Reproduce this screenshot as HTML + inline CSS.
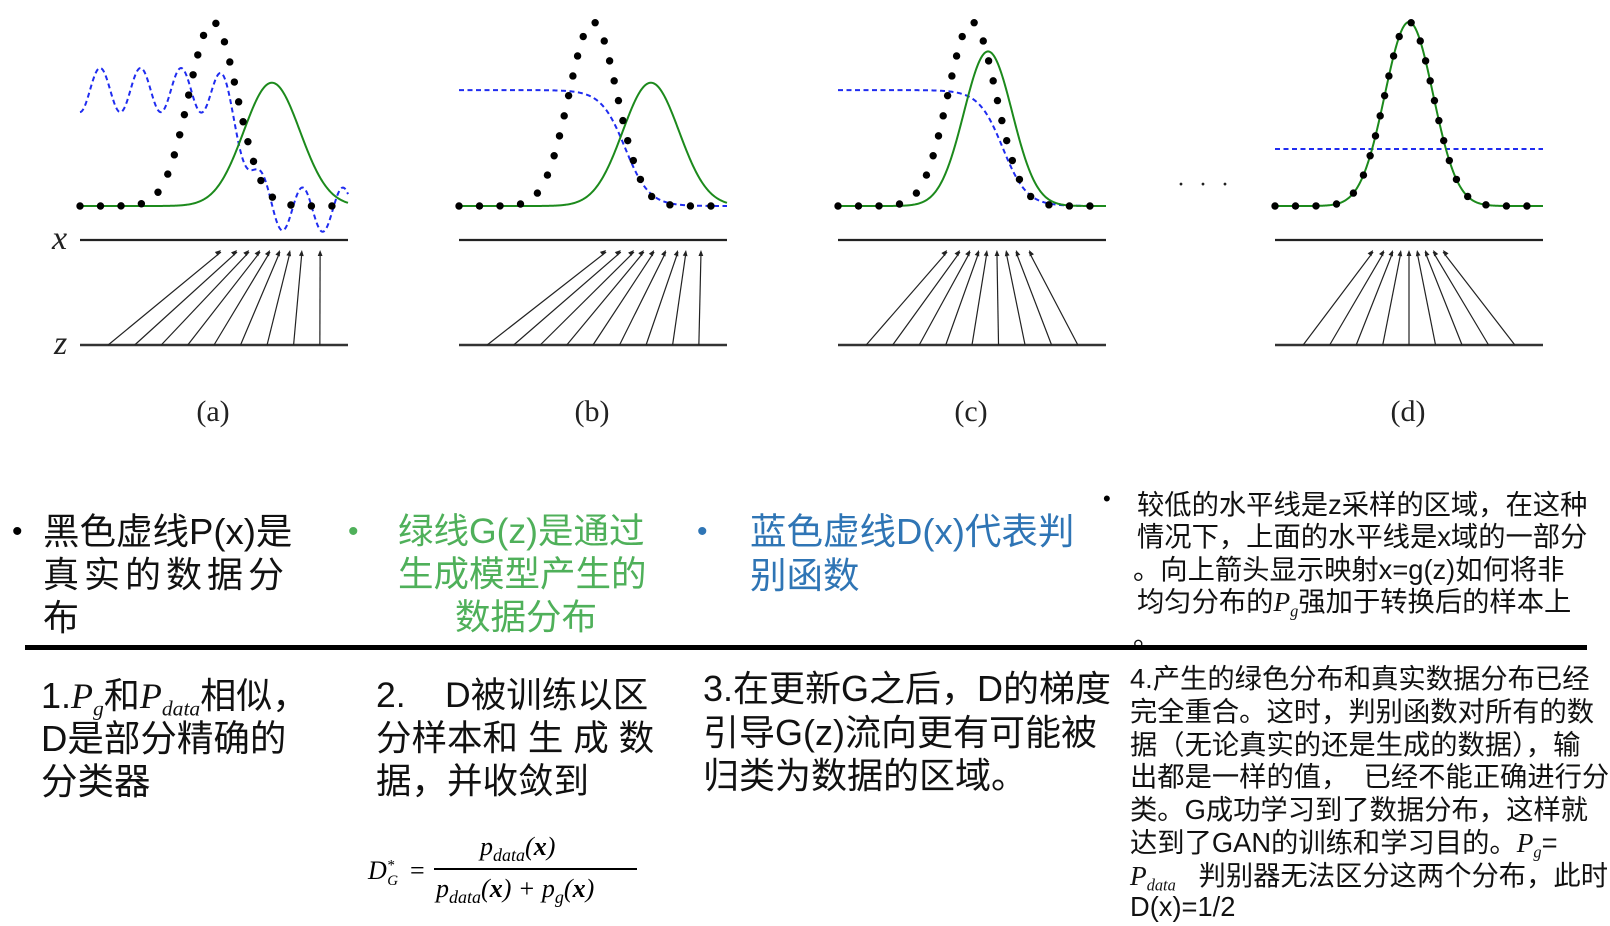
<!DOCTYPE html>
<html><head><meta charset="utf-8">
<style>
body{margin:0;background:#fff;}
#root{position:relative;width:1610px;height:926px;overflow:hidden;background:#fff;font-family:"Liberation Sans","Noto Sans CJK SC",sans-serif;}
.t{position:absolute;white-space:nowrap;line-height:1;}
.c1{font-size:35.5px;color:#111;}
.sm{font-size:27.3px;color:#111;}
.i{font-family:"Liberation Serif",serif;font-style:italic;}
.sub{font-size:0.6em;vertical-align:-0.35em;}
.bul{position:absolute;font-size:30px;line-height:1;}
</style></head>
<body>
<div id="root">
<svg id="chart" width="1610" height="440" style="position:absolute;left:0;top:0"></svg>

<div class="bul" style="left:12px;top:517px">•</div>
<div class="t c1" style="left:43px;top:514px;font-size:36.5px">黑色虚线P(x)是</div>
<div class="t c1" style="left:43px;top:557px;letter-spacing:5px;font-size:36px">真实的数据分</div>
<div class="t c1" style="left:43px;top:600px;font-size:36px">布</div>

<div class="bul" style="left:348px;top:517px;color:#4fb05a">•</div>
<div class="t c1" style="left:398px;top:514px;color:#4fb05a">绿线G(z)是通过</div>
<div class="t c1" style="left:398px;top:557px;color:#4fb05a">生成模型产生的</div>
<div class="t c1" style="left:455px;top:600px;color:#4fb05a">数据分布</div>

<div class="bul" style="left:697px;top:517px;color:#2f75b5">•</div>
<div class="t c1" style="left:750px;top:514px;color:#2f75b5;font-size:36.5px">蓝色虚线D(x)代表判</div>
<div class="t c1" style="left:750px;top:558px;color:#2f75b5;font-size:36.5px">别函数</div>

<div class="bul" style="left:1103px;top:488px;font-size:22px">•</div>
<div class="t sm" style="left:1137px;top:491px">较低的水平线是z采样的区域，在这种</div>
<div class="t sm" style="left:1137px;top:523px">情况下，上面的水平线是x域的一部分</div>
<div class="t sm" style="left:1133px;top:556px">。向上箭头显示映射x=g(z)如何将非</div>
<div class="t sm" style="left:1137px;top:588px">均匀分布的<span class="i">P<span class="sub">g</span></span>强加于转换后的样本上</div>
<div class="t sm" style="left:1133px;top:623px">。</div>

<div style="position:absolute;left:25px;top:645px;width:1562px;height:5px;background:#000"></div>

<div class="t c1" style="left:41px;top:678px;font-size:36px">1.<span class="i">P<span class="sub">g</span></span>和<span class="i">P<span class="sub">data</span></span>相似，</div>
<div class="t c1" style="left:41px;top:721px;font-size:36.5px">D是部分精确的</div>
<div class="t c1" style="left:41px;top:764px;font-size:36.5px">分类器</div>

<div class="t c1" style="left:376px;top:678px">2.&nbsp;&nbsp;&nbsp; D被训练以区</div>
<div class="t c1" style="left:376px;top:721px">分样本和 生 成 数</div>
<div class="t c1" style="left:376px;top:764px">据，并收敛到</div>

<div style="position:absolute;left:368px;top:836px;font-family:'Liberation Serif',serif;font-size:26px;line-height:1">
  <span style="position:absolute;left:0;top:22px;font-style:italic;white-space:nowrap">D<sup style="font-size:15px">*</sup><sub style="font-size:15px;margin-left:-7px">G</sub></span>
  <span style="position:absolute;left:42px;top:22px">=</span>
  <span style="position:absolute;left:112px;top:-2px;white-space:nowrap;font-style:italic">p<sub style="font-size:18px">data</sub>(<b>x</b>)</span>
  <span style="position:absolute;left:66px;top:32px;width:203px;height:1.5px;background:#000"></span>
  <span style="position:absolute;left:68px;top:40px;white-space:nowrap;font-style:italic">p<sub style="font-size:18px">data</sub>(<b>x</b>) + p<sub style="font-size:18px">g</sub>(<b>x</b>)</span>
</div>

<div class="t c1" style="left:703px;top:671px;font-size:36px">3.在更新G之后，D的梯度</div>
<div class="t c1" style="left:703px;top:715px;font-size:36px">引导G(z)流向更有可能被</div>
<div class="t c1" style="left:703px;top:758px;font-size:36px">归类为数据的区域。</div>

<div class="t sm" style="left:1130px;top:665px">4.产生的绿色分布和真实数据分布已经</div>
<div class="t sm" style="left:1130px;top:698px">完全重合。这时，判别函数对所有的数</div>
<div class="t sm" style="left:1130px;top:731px">据（无论真实的还是生成的数据），输</div>
<div class="t sm" style="left:1130px;top:763px">出都是一样的值，&nbsp;&nbsp;已经不能正确进行分</div>
<div class="t sm" style="left:1130px;top:796px">类。G成功学习到了数据分布，这样就</div>
<div class="t sm" style="left:1130px;top:829px">达到了GAN的训练和学习目的。<span class="i">P<span class="sub">g</span></span>=</div>
<div class="t sm" style="left:1130px;top:862px"><span class="i">P<span class="sub">data</span></span>&nbsp;&nbsp; 判别器无法区分这两个分布，此时</div>
<div class="t sm" style="left:1130px;top:893px">D(x)=1/2</div>
</div>

<script>
const panelLabels = ['(a)','(b)','(c)','(d)'];
const dataMean = [0.496, 0.5, 0.5, 0.5];
const dataSigma = [0.09, 0.09, 0.09, 0.09];
const genMean = [0.716, 0.716, 0.560, 0.5];
const genSigma = [0.105, 0.105, 0.09, 0.09];
const genPeak = [0.67, 0.67, 0.84, 1.0];
const discHigh = [0.63, 0.63, 0.63, 0.31];
const discLow = [-0.02, 0.0, 0.0, 0.31];
const discMid = [0.62, 0.62, 0.615, 0.5];
const discScale = [0.03, 0.045, 0.045, 0.045];
const discWiggleAmp = [0.12, 0, 0, 0];
const discWigglePeriod = [0.151, 1, 1, 1];
const discWigglePhase = [0.075, 0, 0, 0];
const zSamples = [0.105,0.204,0.303,0.402,0.5,0.599,0.698,0.797,0.895];
const xHeadsA = [0.526,0.586,0.631,0.672,0.709,0.746,0.784,0.828,0.896];
const xHeadsB = [0.549,0.604,0.653,0.690,0.728,0.772,0.817,0.847,0.903];
const xHeadsC = [0.407,0.455,0.493,0.526,0.556,0.593,0.627,0.664,0.713];
const xHeadsD = [0.366,0.407,0.440,0.470,0.5,0.530,0.560,0.590,0.627];
const xHeads = [xHeadsA, xHeadsB, xHeadsC, xHeadsD];

const panelLeft = [80, 459, 838, 1275];
const panelW = 268, baseY = 206, unitH = 184, xLineY = 240, zLineY = 345, headY = 250;
const NS = 'http://www.w3.org/2000/svg';
const svg = document.getElementById('chart');
function mk(tag, attrs){const e=document.createElementNS(NS,tag);for(const k in attrs)e.setAttribute(k,attrs[k]);svg.appendChild(e);return e;}
function gauss(f,m,s){return Math.exp(-0.5*((f-m)/s)**2);}
function sig(v){return 1/(1+Math.exp(-v));}

for(let p=0;p<4;p++){
  const L = panelLeft[p];
  const sx = f => L + f*panelW;
  const sy = v => baseY - v*unitH;
  const N = 400;
  const dataF = f => gauss(f,dataMean[p],dataSigma[p]);
  const genF = f => genPeak[p]*gauss(f,genMean[p],genSigma[p]);
  const discF = f => {
    const lvl = discHigh[p] + (discLow[p]-discHigh[p])*sig((f-discMid[p])/discScale[p]);
    return lvl + discWiggleAmp[p]*Math.cos(2*Math.PI*(f-discWigglePhase[p])/discWigglePeriod[p]);
  };
  let d='';
  for(let i=0;i<=N;i++){const f=i/N;d+=(i?'L':'M')+sx(f).toFixed(2)+' '+sy(discF(f)).toFixed(2);}
  const blue=mk('path',{d:d,fill:'none',stroke:'#1f2cf0','stroke-width':2,'stroke-dasharray':'5 3.5'});
  
  
  d='';
  for(let i=0;i<=N;i++){const f=i/N;d+=(i?'L':'M')+sx(f).toFixed(2)+' '+sy(genF(f)).toFixed(2);}
  const green=mk('path',{d:d,fill:'none',stroke:'#1c8a1c','stroke-width':2});
  
  
  let pts=[];
  for(let i=0;i<=2000;i++){const f=i/2000;pts.push([sx(f),sy(dataF(f))]);}
  let acc=0, next=0, step=20.5;
  const g=mk('g',{});
  
  
  for(let i=0;i<pts.length;i++){
    if(i>0) acc+=Math.hypot(pts[i][0]-pts[i-1][0],pts[i][1]-pts[i-1][1]);
    if(acc>=next){
      const c=document.createElementNS(NS,'circle');
      c.setAttribute('cx',pts[i][0]);c.setAttribute('cy',pts[i][1]);c.setAttribute('r',3.7);c.setAttribute('fill','#000');
      
      
      g.appendChild(c); next+=step;
    }
  }
  const xl=mk('line',{x1:L,y1:xLineY,x2:L+panelW,y2:xLineY,stroke:'#222','stroke-width':2.2});
  
  
  const zl=mk('line',{x1:L,y1:zLineY,x2:L+panelW,y2:zLineY,stroke:'#333','stroke-width':2.6});
  
  
  for(let k=0;k<zSamples.length;k++){
    const x1=sx(zSamples[k]), x2=sx(xHeads[p][k]);
    const a=mk('line',{x1:x1,y1:zLineY,x2:x2,y2:headY+2,stroke:'#222','stroke-width':1.2});
    
    
    const ang=Math.atan2(headY-zLineY,x2-x1);
    const hl=6, hw=2.4;
    const bx=x2-hl*Math.cos(ang), by=headY-hl*Math.sin(ang);
    const nx=-Math.sin(ang)*hw, ny=Math.cos(ang)*hw;
    const h=mk('polygon',{points:`${x2},${headY} ${bx+nx},${by+ny} ${bx-nx},${by-ny}`,fill:'#222'});
    
    
  }
  const lab=mk('text',{x:L+panelW/2-1,y:421,'text-anchor':'middle','font-family':'Liberation Serif, serif','font-size':30,fill:'#222'});
  lab.textContent=panelLabels[p];
  
  
}
const xt=mk('text',{x:52,y:249,'font-family':'Liberation Serif, serif','font-style':'italic','font-size':34,fill:'#222'});
xt.textContent='x';


const zt=mk('text',{x:54,y:354,'font-family':'Liberation Serif, serif','font-style':'italic','font-size':34,fill:'#222'});
zt.textContent='z';


const el=mk('text',{x:1205,y:192,'text-anchor':'middle','font-family':'Liberation Serif, serif','font-size':24,fill:'#222','letter-spacing':4});
el.textContent='· · ·';


</script>
</body></html>
